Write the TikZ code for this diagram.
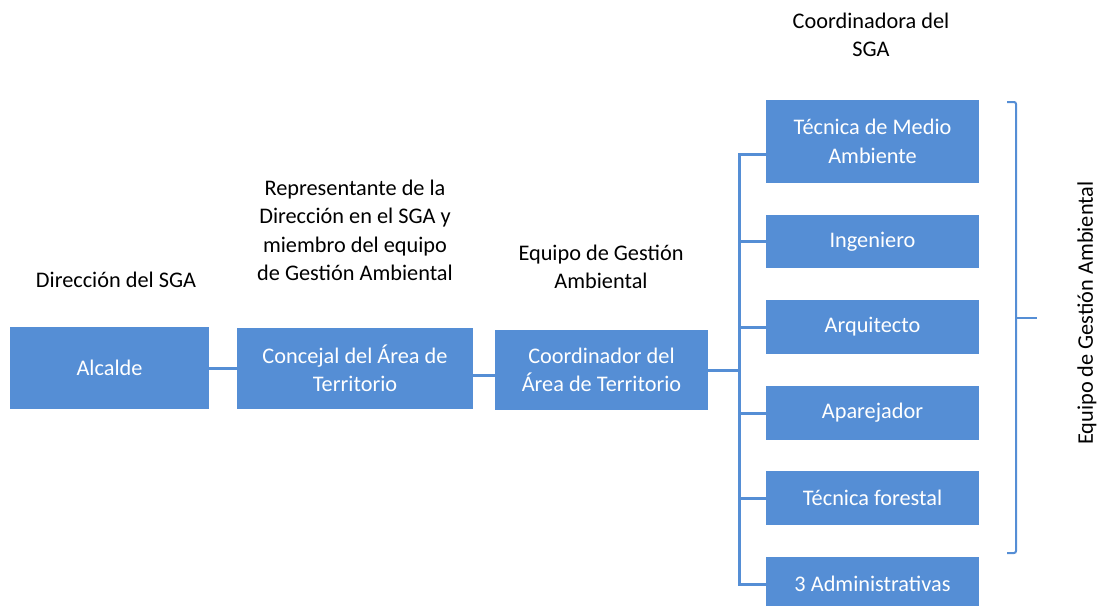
\documentclass[tikz,border=0pt]{standalone}
\usepackage{fontspec}
\setmainfont{Carlito}
\usetikzlibrary{positioning,calc}

\definecolor{sgablue}{RGB}{85,142,213}

\begin{document}
\begin{tikzpicture}[x=1pt,y=-1pt,
		box/.style={fill=sgablue, text=white, inner sep=0pt, align=center,
			font=\fontsize{22.3}{28.5}\selectfont},
		lbl/.style={inner sep=0pt, align=center, font=\fontsize{22.3}{28.5}\selectfont},
		link/.style={draw=sgablue, line width=3pt}]
		\useasboundingbox (0,0) rectangle (1099,605);
%		\draw[step=50,gray!30] (0,0) grid (1099,605);
		% main chain
		\node[box, minimum width=199pt, minimum height=82pt] (alc) at (109.5,368) {Alcalde};
		\node[box, minimum width=236pt, minimum height=81pt] (conc) at (355,368.5) {Concejal del Área de\\Territorio};
		\node[box, minimum width=213pt, minimum height=80pt] (coord) at (601.5,370) {Coordinador del\\Área de Territorio};
		% team column
		\node[box, minimum width=213pt, minimum height=83pt] (tma) at (872.5,141.5) {Técnica de Medio\\Ambiente};
		\node[box, minimum width=213pt, minimum height=53pt] (ing) at (872.5,241.5) {Ingeniero};
		\node[box, minimum width=213pt, minimum height=54pt] (arq) at (872.5,327) {Arquitecto};
		\node[box, minimum width=213pt, minimum height=54pt] (apa) at (872.5,413) {Aparejador};
		\node[box, minimum width=213pt, minimum height=54pt] (tfo) at (872.5,498) {Técnica forestal};
		\node[box, minimum width=213pt, minimum height=54pt] (adm) at (872.5,584) {3 Administrativas};
		% labels
		\node[lbl] (ldir) at (116,280) {Dirección del SGA};
		\node[lbl] (lrep) at (355,230.5) {Representante de la\\Dirección en el SGA y\\miembro del equipo\\de Gestión Ambiental};
		\node[lbl] (lequ) at (601,267) {Equipo de Gestión\\Ambiental};
		\node[lbl] (lcoo) at (871,35) {Coordinadora del\\SGA};
		\node[lbl, rotate=90] (lega) at (1087,313) {Equipo de Gestión Ambiental};
		% connectors
		\coordinate (bus) at (739,370);
		\coordinate (tmain) at (766,154);
		\draw[link] (alc.east) -- (conc.west |- alc.east);
		\draw[link] (conc.east |- 0,375) -- (coord.west |- 0,375);
		\draw[link] (coord.east) -- (bus);
		\draw[link] (tmain) -| (bus) |- (adm.west);
		\foreach \n in {ing,arq,apa,tfo}
			\draw[link] (bus |- \n.west) -- (\n.west);
		% brace
		\draw[sgablue, line width=2pt, rounded corners=2pt] (1007,102) -- (1016,102) -- (1016,553) -- (1007,553);
		\draw[sgablue, line width=2pt] (1016,318) -- (1037,318);
	\end{tikzpicture}
\end{document}
